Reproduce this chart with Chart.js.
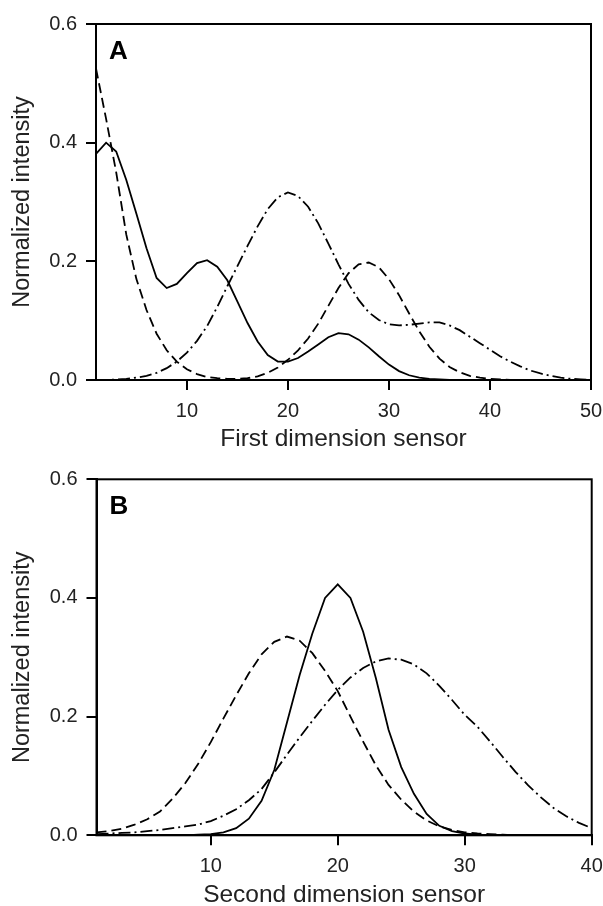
<!DOCTYPE html>
<html>
<head>
<meta charset="utf-8">
<script src="https://cdn.jsdelivr.net/npm/chart.js@4/dist/chart.umd.min.js"></script>
<style>
html,body{margin:0;padding:0;background:#fff;overflow:hidden;width:603px;height:906px;}
canvas{position:absolute;left:0;}
#cA{top:0;}
#cB{top:454px;}
</style>
</head>
<body>
<canvas id="cA" width="603" height="454"></canvas>
<canvas id="cB" width="603" height="456"></canvas>
<script>
// ---------- Data ----------
const sensorA = [1,2,3,4,5,6,7,8,9,10,11,12,13,14,15,16,17,18,19,20,21,22,23,24,25,26,27,28,29,30,31,32,33,34,35,36,37,38,39,40,41,42,43,44,45,46,47,48,49,50];
const solidA = [0.381,0.400,0.385,0.337,0.280,0.222,0.172,0.155,0.162,0.180,0.197,0.202,0.191,0.168,0.132,0.096,0.065,0.042,0.031,0.031,0.037,0.048,0.060,0.072,0.079,0.077,0.068,0.055,0.040,0.026,0.015,0.008,0.004,0.002,0.001,0,0,0,0,0,0,0,0,0,0,0,0,0,0,0];
const dashedA = [0.525,0.440,0.350,0.245,0.170,0.118,0.078,0.050,0.031,0.018,0.010,0.005,0.003,0.002,0.002,0.003,0.006,0.012,0.021,0.034,0.050,0.070,0.095,0.125,0.155,0.180,0.195,0.198,0.190,0.170,0.143,0.112,0.082,0.056,0.036,0.022,0.013,0.007,0.004,0.002,0.001,0,0,0,0,0,0,0,0,0];
const dotDashA = [0.000,0.000,0.001,0.002,0.004,0.007,0.012,0.020,0.031,0.046,0.066,0.091,0.123,0.158,0.192,0.226,0.259,0.288,0.308,0.316,0.310,0.292,0.264,0.230,0.195,0.162,0.135,0.114,0.101,0.094,0.092,0.093,0.095,0.097,0.097,0.092,0.084,0.073,0.062,0.051,0.040,0.031,0.023,0.016,0.011,0.007,0.004,0.002,0.001,0.000];

const sensorB = [1,2,3,4,5,6,7,8,9,10,11,12,13,14,15,16,17,18,19,20,21,22,23,24,25,26,27,28,29,30,31,32,33,34,35,36,37,38,39,40];
const solidB = [0,0,0,0,0,0,0,0,0.001,0.002,0.005,0.012,0.028,0.058,0.110,0.190,0.270,0.340,0.400,0.423,0.400,0.343,0.265,0.178,0.115,0.070,0.036,0.016,0.007,0.003,0.001,0,0,0,0,0,0,0,0,0];
const dashedB = [0.005,0.007,0.011,0.018,0.027,0.040,0.062,0.088,0.120,0.157,0.197,0.236,0.273,0.305,0.326,0.335,0.328,0.307,0.277,0.243,0.200,0.158,0.118,0.085,0.060,0.040,0.025,0.015,0.009,0.005,0.003,0.002,0.001,0,0,0,0,0,0,0];
const dotDashB = [0.002,0.003,0.004,0.005,0.007,0.009,0.012,0.015,0.018,0.024,0.033,0.044,0.059,0.078,0.106,0.136,0.165,0.193,0.220,0.245,0.266,0.282,0.293,0.298,0.296,0.288,0.273,0.252,0.228,0.203,0.183,0.158,0.132,0.107,0.084,0.064,0.046,0.032,0.021,0.012];

const yTicks = [0, 0.2, 0.4, 0.6];
const xTicksA = [10, 20, 30, 40, 50];
const xTicksB = [10, 20, 30, 40];

// ---------- Helpers ----------
const FONT = "'Liberation Sans', Arial, Helvetica, sans-serif";
function pts(xs, ys){ return xs.map((x,i)=>({x:x, y:ys[i]})); }

const framePlugin = {
  id: 'frame',
  afterDraw(chart, args, opts){
    const {ctx, chartArea:a} = chart;
    ctx.save();
    ctx.strokeStyle = '#000';
    ctx.lineWidth = 2;
    ctx.strokeRect(a.left, a.top, a.right - a.left, a.bottom - a.top);
    ctx.font = "bold 26px " + FONT;
    ctx.fillStyle = '#000';
    ctx.textBaseline = 'alphabetic';
    ctx.fillText(opts.letter, a.left + 13, a.top + 35);
    ctx.restore();
  }
};

function makeChart(id, xs, s1, s2, s3, xmax, xTicks, xTitle, yAxisW, pad){
  return new Chart(document.getElementById(id), {
    type: 'line',
    data: {
      datasets: [
        {data: pts(xs, s1), borderColor:'#000', borderWidth:1.8, pointRadius:0, tension:0, fill:false},
        {data: pts(xs, s2), borderColor:'#000', borderWidth:1.8, pointRadius:0, tension:0, fill:false, borderDash:[10,5]},
        {data: pts(xs, s3), borderColor:'#000', borderWidth:1.8, pointRadius:0, tension:0, fill:false, borderDash:[12,4,2,4]}
      ]
    },
    options: {
      responsive: false,
      animation: false,
      events: [],
      layout: {padding: {top:pad.top, right:pad.right, bottom:0, left:0}},
      plugins: {legend:{display:false}, tooltip:{enabled:false}, frame:{letter: id === 'cA' ? 'A' : 'B'}},
      scales: {
        x: {
          type: 'linear', min: 1, max: xmax,
          afterBuildTicks: (s) => { s.ticks = xTicks.map(v => ({value: v})); },
          afterFit: (s) => { s.height = pad.xh; s.paddingLeft = 0; s.paddingRight = 0; },
          grid: {drawOnChartArea:false, drawTicks:true, tickLength:10, color:'#000', lineWidth:2},
          border: {display:true, color:'#000', width:2},
          ticks: {color:'#222', font:{family:FONT, size:20}, padding:9, maxRotation:0, autoSkip:false,
                  callback: (v) => String(v)},
          title: {display:true, text:xTitle, color:'#222', font:{family:FONT, size:24.5}, padding:{top:0,bottom:0}}
        },
        y: {
          type: 'linear', min: 0, max: 0.6,
          afterBuildTicks: (s) => { s.ticks = yTicks.map(v => ({value: v})); },
          afterFit: (s) => { s.width = yAxisW; s.paddingTop = 0; s.paddingBottom = 0; },
          grid: {drawOnChartArea:false, drawTicks:true, tickLength:10, color:'#000', lineWidth:2},
          border: {display:true, color:'#000', width:2},
          ticks: {color:'#222', font:{family:FONT, size:20}, padding:9,
                  callback: (v) => Number(v).toFixed(1)},
          title: {display:true, text:'Normalized intensity', color:'#222', font:{family:FONT, size:23.5}, padding:{top:8,bottom:0}}
        }
      }
    },
    plugins: [framePlugin]
  });
}

makeChart('cA', sensorA, solidA, dashedA, dotDashA, 50, xTicksA, 'First dimension sensor', 96,
  {top:24, right:12, xh:74});
makeChart('cB', sensorB, solidB, dashedB, dotDashB, 40, xTicksB, 'Second dimension sensor', 96.5,
  {top:25.3, right:11.3, xh:74.7});
</script>
</body>
</html>
